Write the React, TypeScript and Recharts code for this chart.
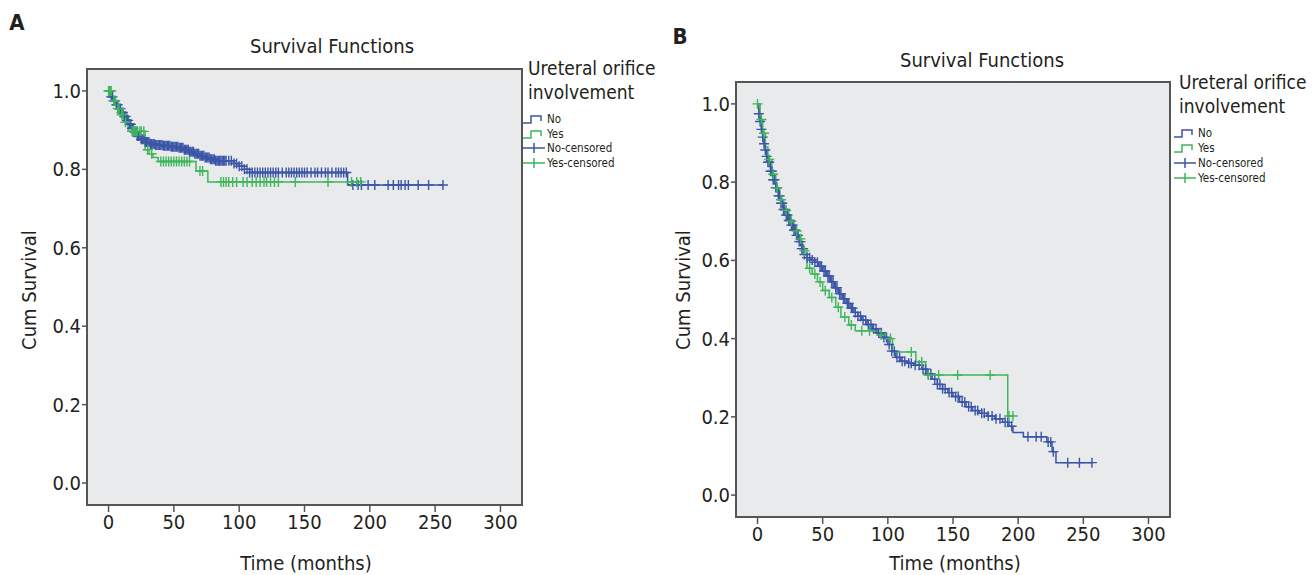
import { CartesianGrid, ComposedChart, Line, ReferenceArea, Scatter, XAxis, YAxis } from "recharts";

const FONT = "'DejaVu Sans Condensed', 'Liberation Sans Narrow', 'DejaVu Sans', sans-serif";
const BLUE = "#3b55a7";
const GREEN = "#3fb65c";
const INK = "#231f20";

const X_TICKS = [0, 50, 100, 150, 200, 250, 300];
const Y_TICKS = [0, 0.2, 0.4, 0.6, 0.8, 1.0];
const LEGEND_TITLE = ["Ureteral orifice", "involvement"];
const LEGEND_ITEMS = ["No", "Yes", "No-censored", "Yes-censored"];

// Panel A: Kaplan-Meier steps (time in months, cumulative survival)
const A_NO_TIME = [0, 2, 4, 6, 8, 10, 12, 14, 16, 18, 20, 22, 25, 28, 32, 36, 42, 48, 54, 58, 62, 66, 70, 74, 78, 82, 96, 100, 104, 108, 183];
const A_NO_SURV = [1.0, 0.985, 0.975, 0.965, 0.955, 0.945, 0.935, 0.925, 0.915, 0.905, 0.895, 0.885, 0.877, 0.87, 0.865, 0.862, 0.86, 0.858, 0.855, 0.85, 0.845, 0.84, 0.835, 0.83, 0.826, 0.822, 0.815, 0.808, 0.8, 0.792, 0.76];
const A_NO_END = 256;
const A_NO_CENSOR = [1, 2, 3, 4, 5, 6, 7, 8, 9, 10, 11, 12, 13, 14, 15, 16, 17, 18, 19, 20, 21, 22, 23, 24, 25, 26, 27, 28, 29, 30, 31, 32, 33, 34, 35, 36, 37, 38, 39, 40, 41, 42, 43, 44, 45, 46, 47, 48, 49, 50, 51, 52, 53, 54, 55, 56, 57, 58, 59, 60, 61, 62, 63, 64, 65, 66, 67, 68, 69, 70, 71, 72, 73, 74, 75, 76, 77, 78, 79, 80, 81, 82, 83, 84, 85, 86, 87, 88, 89, 90, 92, 94, 96, 98, 100, 102, 104, 106, 108, 110, 112, 114, 116, 118, 120, 122, 124, 126, 128, 130, 133, 136, 138, 140, 142, 144, 146, 148, 150, 152, 155, 158, 160, 163, 166, 168, 171, 174, 176, 178, 180, 182, 187, 191, 193.6, 198.7, 203.8, 214, 218, 222, 224, 227, 229.5, 237, 245, 256];

const A_YES_TIME = [0, 3, 6, 9, 12, 15, 28, 31, 34, 38, 67, 76];
const A_YES_SURV = [1.0, 0.975, 0.955, 0.94, 0.92, 0.897, 0.85, 0.84, 0.83, 0.82, 0.796, 0.768];
const A_YES_END = 193;
const A_YES_CENSOR = [0, 1, 2, 4, 5, 7, 8, 10, 11, 13, 18, 19, 20, 21, 22, 24, 25, 27, 30, 33, 40, 42, 44, 46, 48, 50, 52, 54, 56, 58, 60, 62, 70, 72, 86, 88, 90, 92, 95, 98, 103, 106, 110, 113, 116, 119, 121, 124, 127, 130, 143, 168, 186, 190, 193];

// Panel B
const B_NO_TIME = [0, 1, 2, 3, 4, 5, 6, 7, 8, 10, 12, 14, 16, 18, 20, 22, 24, 26, 28, 30, 32, 34, 36, 38, 41, 44, 47, 50, 53, 56, 59, 62, 65, 68, 71, 74, 77, 80, 84, 88, 92, 96, 100, 103, 106, 110, 115, 120, 126, 130, 134, 138, 142, 146, 150, 155, 160, 165, 170, 176, 182, 188, 193, 196, 204, 222, 226, 229];
const B_NO_SURV = [1.0, 0.975, 0.955, 0.935, 0.915, 0.898, 0.882, 0.866, 0.851, 0.828, 0.806, 0.786, 0.765, 0.746, 0.73, 0.716, 0.702, 0.69, 0.677, 0.664, 0.648, 0.63, 0.615, 0.607, 0.601, 0.595, 0.585, 0.573, 0.56, 0.545, 0.53, 0.515, 0.502, 0.49, 0.478, 0.467, 0.457, 0.447, 0.436, 0.425, 0.415, 0.403, 0.385, 0.368, 0.352, 0.342, 0.337, 0.332, 0.322, 0.31, 0.296, 0.283, 0.272, 0.262, 0.252, 0.238, 0.226, 0.216, 0.209, 0.202, 0.195, 0.186, 0.176, 0.16, 0.149, 0.136, 0.111, 0.083];
const B_NO_END = 257;
const B_NO_CENSOR = [1, 2, 3, 4, 5, 6, 7, 8, 9, 10, 11, 12, 13, 14, 15, 16, 17, 18, 19, 20, 21, 22, 23, 24, 25, 26, 27, 28, 29, 30, 31, 32, 33, 34, 35, 36, 38, 40, 42, 44, 46, 48, 49, 51, 52, 54, 55, 57, 58, 60, 61, 63, 64, 66, 67, 69, 70, 72, 73, 75, 77, 79, 81, 83, 85, 87, 89, 91, 93, 95, 97, 99, 101, 103, 105, 107, 109, 111, 113, 116, 118, 121, 124, 127, 129, 131, 133, 136, 138, 140, 142, 144, 147, 149, 152, 154, 157, 159, 162, 164, 167, 169, 172, 174, 177, 180, 183, 186, 190, 192, 195, 207.5, 213.8, 217.7, 223, 225, 227, 238, 247, 256.6];

const B_YES_TIME = [0, 2, 4, 6, 8, 11, 14, 17, 20, 24, 28, 31, 34, 38, 42, 46, 50, 55, 60, 64, 70, 75, 92, 98, 103.6, 121.5, 129, 192];
const B_YES_SURV = [1.0, 0.96, 0.925, 0.89, 0.858, 0.82, 0.785, 0.755, 0.728, 0.7, 0.675, 0.655, 0.625, 0.58, 0.565, 0.545, 0.523, 0.505, 0.48, 0.455, 0.435, 0.42, 0.409, 0.4, 0.366, 0.341, 0.307, 0.202];
const B_YES_END = 197;
const B_YES_CENSOR = [0, 3, 5, 9, 12, 15, 18, 22, 26, 30, 33, 36, 40, 44, 48, 52, 57, 62, 67, 72, 80, 86, 95, 102, 118, 126, 131, 139, 153.6, 178.5, 193, 196];

const X_DOMAIN = [-16.5, 316.5];
const Y_DOMAIN = [-0.056, 1.056];

const stepData = (times: number[], surv: number[], end: number) => {
  const d = times.map((t, i) => ({ t, s: surv[i] }));
  d.push({ t: end, s: surv[surv.length - 1] });
  return d;
};

const censorData = (censor: number[], times: number[], surv: number[]) =>
  censor.map((t) => {
    let s = surv[0];
    times.forEach((tt, i) => {
      if (tt <= t) s = surv[i];
    });
    return { t, s };
  });

const plus = (color: string) => (props: any) => {
  const { cx, cy } = props;
  if (cx == null || cy == null) return <g />;
  return (
    <path
      d={`M${cx - 5},${cy}h10M${cx},${cy - 5}v10`}
      stroke={color}
      strokeWidth={1.4}
      fill="none"
    />
  );
};

interface PanelProps {
  box: { left: number; top: number; right: number; bottom: number };
  no: { t: number; s: number }[];
  yes: { t: number; s: number }[];
  noCens: { t: number; s: number }[];
  yesCens: { t: number; s: number }[];
}

const Y_AXIS_W = 40;
const X_AXIS_H = 40;

function Panel({ box, no, yes, noCens, yesCens }: PanelProps) {
  return (
    <div style={{ position: "absolute", left: 0, top: 0 }}>
      <ComposedChart
        width={1315}
        height={575}
        margin={{
          top: box.top,
          left: box.left - Y_AXIS_W,
          right: 1315 - box.right,
          bottom: 575 - box.bottom - X_AXIS_H,
        }}
      >
        <CartesianGrid fill="#e9eaec" horizontal={false} vertical={false} />
        <XAxis
          type="number"
          dataKey="t"
          domain={X_DOMAIN}
          ticks={X_TICKS}
          allowDataOverflow
          height={X_AXIS_H}
          axisLine={false}
          tickSize={7}
          tickMargin={3}
          tickLine={{ stroke: "#555", strokeWidth: 1.5 }}
          tick={{ fill: INK, fontSize: 20, fontFamily: FONT }}
        />
        <YAxis
          type="number"
          dataKey="s"
          domain={Y_DOMAIN}
          ticks={Y_TICKS}
          allowDataOverflow
          width={Y_AXIS_W}
          axisLine={false}
          tickSize={5}
          tickMargin={1}
          tickLine={{ stroke: "#555", strokeWidth: 1.5 }}
          tick={{ fill: INK, fontSize: 20, fontFamily: FONT }}
          tickFormatter={(v: number) => v.toFixed(1)}
        />
        <ReferenceArea
          x1={X_DOMAIN[0]}
          x2={X_DOMAIN[1]}
          y1={Y_DOMAIN[0]}
          y2={Y_DOMAIN[1]}
          fill="none"
          stroke="#555"
          strokeWidth={2}
        />
        <Line data={no} dataKey="s" type="stepAfter" stroke={BLUE} strokeWidth={1.5} dot={false} isAnimationActive={false} />
        <Line data={yes} dataKey="s" type="stepAfter" stroke={GREEN} strokeWidth={1.5} dot={false} isAnimationActive={false} />
        <Scatter data={noCens} dataKey="s" shape={plus(BLUE)} isAnimationActive={false} />
        <Scatter data={yesCens} dataKey="s" shape={plus(GREEN)} isAnimationActive={false} />
      </ComposedChart>
    </div>
  );
}

function Legend({ left, top, gap }: { left: number; top: number; gap: number }) {
  const colors = [BLUE, GREEN, BLUE, GREEN];
  return (
    <div style={{ position: "absolute", left, top, fontFamily: FONT, color: INK, whiteSpace: "nowrap" }}>
      <div style={{ fontSize: 19, lineHeight: "24px", marginLeft: 6 }}>
        {LEGEND_TITLE.map((l) => (
          <div key={l}>{l}</div>
        ))}
      </div>
      <div style={{ marginTop: 8 }}>
        {LEGEND_ITEMS.map((name, i) => (
          <div key={name} style={{ display: "flex", alignItems: "center", height: gap, fontSize: 11.5 }}>
            <svg width={24} height={12} style={{ marginRight: 1 }}>
              {i < 2 ? (
                <path d="M1,10H9V3H19V8" stroke={colors[i]} strokeWidth={1.5} fill="none" />
              ) : (
                <path d="M1,6H23M12,1V11" stroke={colors[i]} strokeWidth={1.5} fill="none" />
              )}
            </svg>
            <span>{name}</span>
          </div>
        ))}
      </div>
    </div>
  );
}

const label = (text: string, x: number, y: number, size: number, extra: any = {}) => (
  <div
    style={{
      position: "absolute",
      left: x,
      top: y,
      transform: `translate(-50%, -50%)${extra.rotate ? " rotate(-90deg)" : ""}`,
      fontFamily: FONT,
      fontSize: size,
      fontWeight: extra.bold ? 700 : 400,
      color: INK,
      whiteSpace: "nowrap",
    }}
  >
    {text}
  </div>
);

export default function App() {
  const aNo = stepData(A_NO_TIME, A_NO_SURV, A_NO_END);
  const aYes = stepData(A_YES_TIME, A_YES_SURV, A_YES_END);
  const bNo = stepData(B_NO_TIME, B_NO_SURV, B_NO_END);
  const bYes = stepData(B_YES_TIME, B_YES_SURV, B_YES_END);

  return (
    <div style={{ position: "absolute", left: 0, top: 0, width: 1315, height: 575, background: "#fff", overflow: "hidden" }}>
      <Panel
        box={{ left: 87, top: 69, right: 522, bottom: 505 }}
        no={aNo}
        yes={aYes}
        noCens={censorData(A_NO_CENSOR, A_NO_TIME, A_NO_SURV)}
        yesCens={censorData(A_YES_CENSOR, A_YES_TIME, A_YES_SURV)}
      />
      <Panel
        box={{ left: 736, top: 82, right: 1170, bottom: 517 }}
        no={bNo}
        yes={bYes}
        noCens={censorData(B_NO_CENSOR, B_NO_TIME, B_NO_SURV)}
        yesCens={censorData(B_YES_CENSOR, B_YES_TIME, B_YES_SURV)}
      />

      {label("A", 17, 22, 22, { bold: true })}
      {label("Survival Functions", 332, 46, 20)}
      {label("Cum Survival", 29, 290, 20, { rotate: true })}
      {label("Time (months)", 306, 563, 20)}
      <Legend left={522} top={56} gap={14.5} />

      {label("B", 680, 36, 22, { bold: true })}
      {label("Survival Functions", 982, 60, 20)}
      {label("Cum Survival", 683, 290, 20, { rotate: true })}
      {label("Time (months)", 955, 563, 20)}
      <Legend left={1173} top={70} gap={14.8} />
    </div>
  );
}
